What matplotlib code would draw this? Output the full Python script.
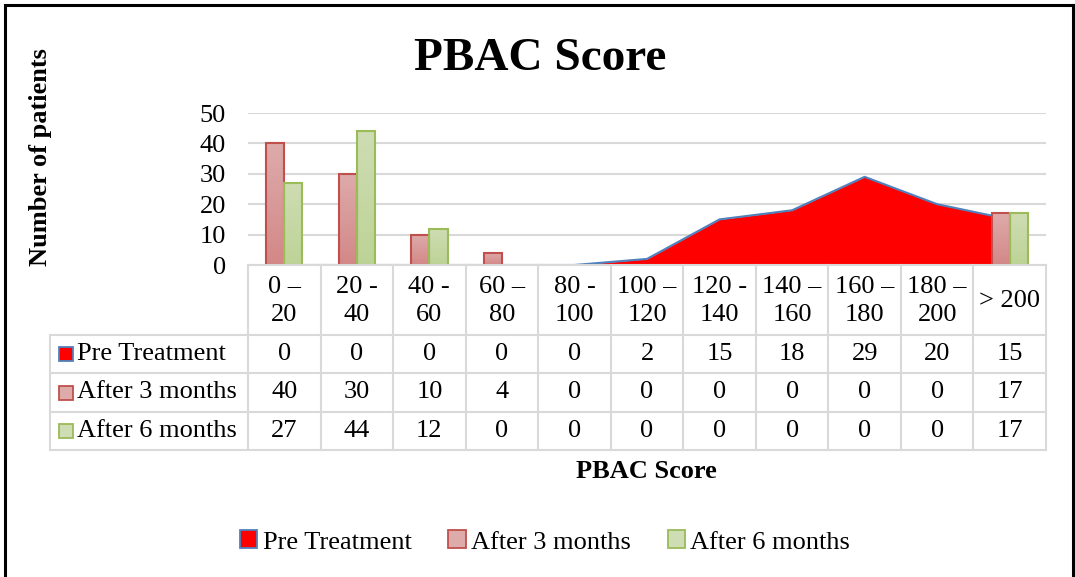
import numpy as np
import matplotlib
matplotlib.use("Agg")
import matplotlib.pyplot as plt
from matplotlib.colors import LinearSegmentedColormap
from matplotlib.patches import Patch, Rectangle
from matplotlib.lines import Line2D

plt.rcParams['font.family'] = ['Liberation Serif', 'DejaVu Serif']

# data
categories = ["0 –\n20", "20 -\n40", "40 -\n60", "60 –\n80", "80 -\n100", "100 –\n120",
              "120 -\n140", "140 –\n160", "160 –\n180", "180 –\n200", "> 200"]
pre_treatment = [0, 0, 0, 0, 0, 2, 15, 18, 29, 20, 15]
after_3_months = [40, 30, 10, 4, 0, 0, 0, 0, 0, 0, 17]
after_6_months = [27, 44, 12, 0, 0, 0, 0, 0, 0, 0, 17]
series_names = ["Pre Treatment", "After 3 months", "After 6 months"]

# colours
area_fill = "#FF0000"
area_edge = "#4F81BD"
red_edge, red_top, red_bot = "#C0504D", "#DDABAA", "#D38887"
green_edge, green_top, green_bot = "#9BBB59", "#CEDDB3", "#BDD396"
grid_col = "#D9D9D9"

W, H = 1075, 577
fig = plt.figure(figsize=(W / 100, H / 100), dpi=100)


def fx(px):
    return px / W


def fy(py):
    return 1 - py / H


# main plot area: x 248..1046 px, y 113 (50) .. 265 (0)
ax = fig.add_axes([fx(248), fy(265), fx(1046 - 248), (265 - 113) / H])
x = np.arange(len(categories))

ax.fill_between(x, pre_treatment, color=area_fill, lw=0, zorder=2)
ax.plot(x, pre_treatment, color=area_edge, lw=1.5, zorder=2.5)


def gradient_bars(bars, top, bot, edge):
    cmap = LinearSegmentedColormap.from_list("g", [bot, top])
    img = np.linspace(0, 1, 64).reshape(-1, 1)
    for b in bars:
        h = b.get_height()
        if h <= 0:
            b.set_visible(False)
            continue
        x0 = b.get_x()
        ax.imshow(img, extent=(x0, x0 + b.get_width(), 0, h), origin="lower",
                  cmap=cmap, aspect="auto", zorder=3)
        b.set_facecolor("none")
        b.set_edgecolor(edge)
        b.set_linewidth(1.5)
        b.set_zorder(4)


bw = 0.25
b3 = ax.bar(x - bw / 2, after_3_months, bw)
b6 = ax.bar(x + bw / 2, after_6_months, bw)
gradient_bars(b3, red_top, red_bot, red_edge)
gradient_bars(b6, green_top, green_bot, green_edge)

ax.set_xlim(-0.5, len(categories) - 0.5)
ax.set_ylim(0, 50)
ax.set_yticks(range(0, 51, 10))
ax.set_xticks([])
ax.tick_params(axis="y", length=0, pad=16, labelsize=19)
ax.yaxis.grid(True, color=grid_col, lw=1.5)
ax.set_axisbelow(True)
for s in ax.spines.values():
    s.set_visible(False)

# data table below the plot: x 50..1046 px, y 265..450 px
unit = (1046 - 248) / len(categories)
tab = fig.add_axes([fx(50), fy(450), fx(1046 - 50), (450 - 265) / H])
left = -0.5 - (248 - 50) / unit
right = len(categories) - 0.5
tab.set_xlim(left, right)
tab.set_ylim(185, 0)
tab.axis("off")


def ux(px):
    return -0.5 + (px - 248) / unit


row_lines = [0, 70, 108, 147, 185]
tlw = 1.5
# header row
tab.plot([-0.5, right], [0, 0], color=grid_col, lw=tlw, clip_on=False)
tab.plot([left, right], [70, 70], color=grid_col, lw=tlw, clip_on=False)
for yl in row_lines[2:]:
    tab.plot([left, right], [yl, yl], color=grid_col, lw=tlw, clip_on=False)
for i in range(len(categories) + 1):
    tab.plot([i - 0.5, i - 0.5], [0, 185], color=grid_col, lw=tlw, clip_on=False)
tab.plot([left, left], [70, 185], color=grid_col, lw=tlw, clip_on=False)

for i, lab in enumerate(categories):
    tab.text(i, 36, lab, ha="center", va="center", fontsize=19, linespacing=1.35)

rows = [pre_treatment, after_3_months, after_6_months]
swatches = [(area_fill, area_edge), ((red_top), red_edge), (green_top, green_edge)]
for r, (vals, name, (fc, ec)) in enumerate(zip(rows, series_names, swatches)):
    yc = (row_lines[r + 1] + row_lines[r + 2]) / 2
    for i, v in enumerate(vals):
        tab.text(i, yc, str(v), ha="center", va="center", fontsize=19)
    tab.add_patch(Rectangle((ux(59), yc - 7), ux(73) - ux(59), 14,
                            facecolor=fc, edgecolor=ec, lw=1.3, clip_on=False))
    tab.text(ux(77), yc, name, ha="left", va="center", fontsize=19)

# titles
fig.text(fx(540), fy(59), "PBAC Score", ha="center", va="center",
         fontsize=34, fontweight="bold")
fig.text(fx(646), fy(472), "PBAC Score", ha="center", va="center",
         fontsize=19, fontweight="bold")
fig.text(fx(41), fy(157), "Number of patients", ha="center", va="center",
         rotation=90, fontsize=19, fontweight="bold")

# legend
handles = [Patch(facecolor=fc, edgecolor=ec, lw=1.3) for fc, ec in swatches]
fig.legend(handles, series_names, loc="center", bbox_to_anchor=(fx(545), fy(542)),
           ncol=3, frameon=False, fontsize=19, handlelength=0.65, handleheight=0.65,
           handletextpad=0.2, columnspacing=1.4)

# outer frame
frame_kw = dict(color="black", lw=2.2, transform=fig.transFigure)
fig.add_artist(Line2D([fx(5), fx(1073)], [fy(4.5), fy(4.5)], **frame_kw))
fig.add_artist(Line2D([fx(5), fx(5)], [fy(4.5), 0], **frame_kw))
fig.add_artist(Line2D([fx(1073), fx(1073)], [fy(4.5), 0], **frame_kw))

fig.savefig("out.png", dpi=100)
